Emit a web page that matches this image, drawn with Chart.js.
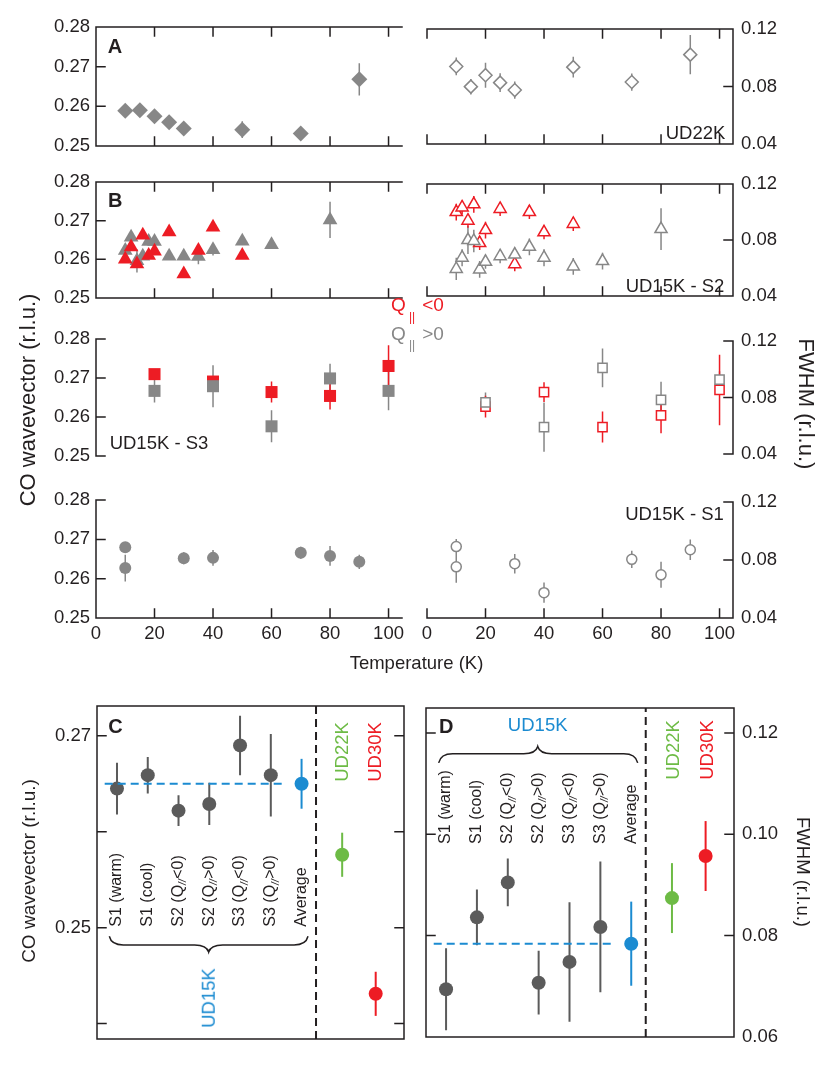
<!DOCTYPE html>
<html>
<head>
<meta charset="utf-8">
<script src="https://cdn.jsdelivr.net/npm/chart.js@4.4.0/dist/chart.umd.min.js"></script>
<style>
  body { margin: 0; background: #fff; }
  #fig { position: relative; width: 830px; height: 1072px; overflow: hidden; font-family: "Liberation Sans", Arial, sans-serif; color: #231f20; }
  #fig canvas { position: absolute; }
  .t { position: absolute; white-space: nowrap; line-height: 1; transform-origin: center; }
</style>
</head>
<body>
<div id="fig"></div>
<script>
const INK = '#231f20', GRAY = '#878787', RED = '#ed1c24', DARK = '#5b5b5b', BLUE = '#1b8bd1', GREEN = '#6dbb45';

// axis ticks
const tempTicks = [0, 20, 40, 60, 80, 100];
const coTicks = [0.25, 0.26, 0.27, 0.28];
const fwTicks = [0.04, 0.08, 0.12];
const coTicksC = [0.24, 0.25, 0.26, 0.27];
const coLabelsC = [0.25, 0.27];
const fwTicksD = [0.06, 0.08, 0.10, 0.12];

// A: UD22K
const tA = [10, 15, 20, 25, 30, 50, 70, 90];
const coA = [0.2589, 0.2590, 0.2575, 0.2560, 0.2544, 0.2541, 0.2531, 0.2668];
const coAErr = [0.0004, 0.0004, 0.0008, 0.0007, 0.0004, 0.0021, 0.0004, 0.0041];
const fwA = [0.0940, 0.0799, 0.0879, 0.0827, 0.0775, 0.0935, 0.0831, 0.1022];
const fwAErr = [0.0062, 0.0054, 0.0087, 0.0065, 0.0060, 0.0072, 0.0060, 0.0137];

// B: UD15K - S2
const tS2neg = [10, 12, 14, 16, 18, 20, 25, 30, 35, 40, 50];
const coS2neg = [0.2600, 0.2632, 0.2588, 0.2662, 0.2610, 0.2621, 0.2671, 0.2562, 0.2623, 0.2683, 0.2610];
const coS2negErr = [0.0008, 0.0008, 0.0008, 0.0008, 0.0008, 0.0008, 0.0008, 0.0008, 0.0008, 0.0008, 0.0008];
const fwS2neg = [0.1000, 0.1033, 0.0938, 0.1055, 0.0778, 0.0871, 0.1022, 0.0627, 0.1000, 0.0855, 0.0915];
const fwS2negErr = [0.0060, 0.0050, 0.0050, 0.0060, 0.0050, 0.0060, 0.0050, 0.0050, 0.0050, 0.0050, 0.0050];
const tS2pos = [10, 12, 14, 16, 18, 20, 25, 30, 35, 40, 50, 60, 80];
const coS2pos = [0.2623, 0.2657, 0.2596, 0.2608, 0.2646, 0.2646, 0.2608, 0.2608, 0.2607, 0.2625, 0.2647, 0.2638, 0.2702];
const coS2posErr = [0.0012, 0.0008, 0.0030, 0.0010, 0.0008, 0.0008, 0.0010, 0.0010, 0.0020, 0.0015, 0.0008, 0.0010, 0.0047];
const fwS2pos = [0.0593, 0.0673, 0.0800, 0.0793, 0.0589, 0.0644, 0.0684, 0.0696, 0.0751, 0.0673, 0.0611, 0.0649, 0.0878];
const fwS2posErr = [0.0080, 0.0060, 0.0100, 0.0080, 0.0060, 0.0050, 0.0050, 0.0050, 0.0060, 0.0060, 0.0060, 0.0060, 0.0150];

// UD15K - S3
const tS3 = [20, 40, 60, 80, 100];
const coS3neg = [0.2710, 0.2691, 0.2664, 0.2654, 0.2731];
const coS3negErr = [0.0010, 0.0012, 0.0027, 0.0035, 0.0053];
const coS3pos = [0.2667, 0.2679, 0.2576, 0.2699, 0.2667];
const coS3posErr = [0.0030, 0.0054, 0.0041, 0.0038, 0.0050];
const fwS3neg = [0.0735, 0.0838, 0.0590, 0.0673, 0.0854];
const fwS3negErr = [0.0077, 0.0070, 0.0110, 0.0126, 0.0250];
const fwS3pos = [0.0766, 0.0590, 0.1010, 0.0783, 0.0927];
const fwS3posErr = [0.0070, 0.0174, 0.0137, 0.0128, 0.0060];

// UD15K - S1
const tS1 = [10, 10, 30, 40, 70, 80, 90];
const coS1 = [0.2680, 0.2627, 0.2652, 0.2653, 0.2666, 0.2658, 0.2643];
const coS1Err = [0.0008, 0.0034, 0.0015, 0.0020, 0.0015, 0.0025, 0.0018];
const fwS1 = [0.0893, 0.0753, 0.0775, 0.0575, 0.0805, 0.0698, 0.0871];
const fwS1Err = [0.0053, 0.0110, 0.0067, 0.0070, 0.0060, 0.0090, 0.0070];

// C / D summary
const categories = ['S1 (warm)', 'S1 (cool)', 'S2 (Q//<0)', 'S2 (Q//>0)', 'S3 (Q//<0)', 'S3 (Q//>0)', 'Average'];
const coC = [0.2645, 0.2659, 0.2622, 0.2629, 0.2690, 0.2659];
const coCErr = [0.0027, 0.0019, 0.0016, 0.0022, 0.0031, 0.0043];
const coAvg = 0.2650, coAvgErr = 0.0026;
const coUD22 = 0.2576, coUD22Err = 0.0023;
const coUD30 = 0.2431, coUD30Err = 0.0023;
const fwD = [0.0694, 0.0836, 0.0905, 0.0707, 0.0748, 0.0817];
const fwDErr = [0.0081, 0.0055, 0.0047, 0.0063, 0.0118, 0.0129];
const fwAvg = 0.0784, fwAvgErr = 0.0083;
const fwUD22 = 0.0874, fwUD22Err = 0.0069;
const fwUD30 = 0.0957, fwUD30Err = 0.0069;

// x layout of the summary panels
const catPos = [0, 1, 2, 3, 4, 5, 6];
const posUD22 = 7.32, posUD30 = 8.41, posDivider = 6.47;

const fig = document.getElementById('fig');

// error bars, drawn under the markers
const errPlugin = {
  id: 'errbars',
  beforeDatasetsDraw(chart) {
    const { ctx, scales: { x, y } } = chart;
    chart.data.datasets.forEach(ds => {
      if (!ds.err) return;
      ctx.save();
      ctx.strokeStyle = ds.borderColor;
      ctx.lineWidth = ds.errWidth || 1.5;
      ctx.beginPath();
      ds.data.forEach((p, j) => {
        const px = x.getPixelForValue(p.x);
        ctx.moveTo(px, y.getPixelForValue(p.y - ds.err[j]));
        ctx.lineTo(px, y.getPixelForValue(p.y + ds.err[j]));
      });
      ctx.stroke();
      ctx.restore();
    });
  }
};

// frame lines with inward tick marks
const framePlugin = {
  id: 'frame',
  afterDraw(chart, args, o) {
    if (!o.sides) return;
    const { ctx, chartArea: a, scales: { x, y } } = chart;
    const s = o.sides, len = 9;
    ctx.save();
    ctx.strokeStyle = INK;
    ctx.lineWidth = 1.5;
    ctx.lineCap = 'square';
    ctx.beginPath();
    if (s.includes('t')) { ctx.moveTo(a.left, a.top); ctx.lineTo(a.right, a.top); }
    if (s.includes('b')) { ctx.moveTo(a.left, a.bottom); ctx.lineTo(a.right, a.bottom); }
    if (s.includes('l')) { ctx.moveTo(a.left, a.top); ctx.lineTo(a.left, a.bottom); }
    if (s.includes('r')) { ctx.moveTo(a.right, a.top); ctx.lineTo(a.right, a.bottom); }
    (o.xTicks || []).forEach(v => {
      const p = x.getPixelForValue(v);
      if (s.includes('t')) { ctx.moveTo(p, a.top); ctx.lineTo(p, a.top + len); }
      if (s.includes('b')) { ctx.moveTo(p, a.bottom); ctx.lineTo(p, a.bottom - len); }
    });
    (o.yTicks || []).forEach(v => {
      const p = y.getPixelForValue(v);
      if (s.includes('l')) { ctx.moveTo(a.left, p); ctx.lineTo(a.left + len, p); }
      if (s.includes('r')) { ctx.moveTo(a.right, p); ctx.lineTo(a.right - len, p); }
    });
    ctx.stroke();
    ctx.restore();
  }
};

// rotated category labels and the brace in C / D
const notePlugin = {
  id: 'note',
  afterDraw(chart, args, o) {
    if (!o.labels) return;
    const { ctx, scales: { x, y } } = chart;
    ctx.save();
    ctx.fillStyle = INK;
    ctx.textBaseline = 'middle';
    ctx.textAlign = 'left';
    o.labels.forEach((lab, i) => {
      ctx.save();
      ctx.translate(x.getPixelForValue(o.pos[i]), y.getPixelForValue(o.anchor));
      ctx.rotate(-Math.PI / 2);
      const parts = lab.split('//');
      let cx = 0;
      ctx.font = '16px "Liberation Sans", Arial, sans-serif';
      ctx.fillText(parts[0], cx, 0);
      cx += ctx.measureText(parts[0]).width;
      if (parts.length > 1) {
        ctx.font = 'italic 10px "Liberation Sans", Arial, sans-serif';
        ctx.fillText('//', cx, 5);
        cx += ctx.measureText('//').width + 0.5;
        ctx.font = '16px "Liberation Sans", Arial, sans-serif';
        ctx.fillText(parts[1], cx, 0);
      }
      ctx.restore();
    });
    const b = o.brace;
    const X = v => x.getPixelForValue(v), Y = v => y.getPixelForValue(v);
    const x0 = X(b.x0), x1 = X(b.x1), xc = X(b.xc), ye = Y(b.yEnd), yb = Y(b.yBody), yt = Y(b.yTip);
    const r = 14;
    ctx.strokeStyle = INK;
    ctx.lineWidth = 1.5;
    ctx.beginPath();
    ctx.moveTo(x0, ye);
    ctx.quadraticCurveTo(x0 + 2, yb, x0 + r, yb);
    ctx.lineTo(xc - r, yb);
    ctx.quadraticCurveTo(xc - 2, yb, xc, yt);
    ctx.quadraticCurveTo(xc + 2, yb, xc + r, yb);
    ctx.lineTo(x1 - r, yb);
    ctx.quadraticCurveTo(x1 - 2, yb, x1, ye);
    ctx.stroke();
    ctx.restore();
  }
};

Chart.register(errPlugin, framePlugin, notePlugin);

function yAxis(min, max, labels, position) {
  return {
    type: 'linear', position, min, max,
    display: labels.length > 0,
    grid: { display: false, drawTicks: false },
    border: { display: false },
    afterBuildTicks: s => { s.ticks = labels.map(v => ({ value: v })); },
    afterFit: labels.length ? s => { s.width = 60; } : undefined,
    ticks: { font: { size: 18.5 }, color: INK, padding: position === 'left' ? 6 : 8, callback: v => v.toFixed(2) }
  };
}

function xAxis(min, max, labels) {
  return {
    type: 'linear', position: 'bottom', min, max,
    display: labels.length > 0,
    grid: { display: false, drawTicks: false },
    border: { display: false },
    afterBuildTicks: s => { s.ticks = labels.map(v => ({ value: v })); },
    afterFit: labels.length ? s => { s.height = 30; } : undefined,
    ticks: { font: { size: 18.5 }, color: INK, padding: 5, maxRotation: 0, autoSkip: false, callback: v => v }
  };
}

const pts = (xs, ys) => xs.map((x, i) => ({ x, y: ys[i] }));
const filled = (shape, r, c) => ({ pointStyle: shape, pointRadius: r, backgroundColor: c, borderColor: c, borderWidth: 0 });
const open = (shape, r, c) => ({ pointStyle: shape, pointRadius: r, backgroundColor: '#fff', borderColor: c, borderWidth: 1.5 });
function series(xs, ys, err, style) {
  return Object.assign({ data: pts(xs, ys), err, showLine: false, clip: false }, style);
}
function dashLine(x0, x1, y0, y1, color) {
  return { type: 'line', data: [{ x: x0, y: y0 }, { x: x1, y: y1 }], showLine: true, borderColor: color,
    borderWidth: 2, borderDash: [8, 5], pointRadius: 0, clip: false };
}

// place a chart so its plotting area lands exactly on box
function panel(box, pad, scales, datasets, plugins) {
  const cv = document.createElement('canvas');
  const W = box.w + pad.l + pad.r, H = box.h + pad.t + pad.b;
  cv.width = W; cv.height = H;
  Object.assign(cv.style, { left: (box.l - pad.l) + 'px', top: (box.t - pad.t) + 'px', width: W + 'px', height: H + 'px' });
  fig.appendChild(cv);
  const chart = new Chart(cv, {
    type: 'scatter',
    data: { datasets },
    options: {
      responsive: false, animation: false, events: [], devicePixelRatio: 1,
      layout: { padding: { left: pad.l, right: pad.r, top: pad.t, bottom: pad.b } },
      scales,
      plugins: Object.assign({ legend: { display: false }, tooltip: { enabled: false } }, plugins)
    }
  });
  const ca = chart.chartArea;
  const p = chart.config.options.layout.padding;
  p.left += pad.l - ca.left;
  p.top += pad.t - ca.top;
  p.right += ca.right - (pad.l + box.w);
  p.bottom += ca.bottom - (pad.t + box.h);
  chart.update();
  return chart;
}

const TMAX = 104.6;
const colL = 96, colR = 427, colW = 306;
const rows = { A: [25, 123], B: [180, 120], S3: [337, 121], S1: [498, 120] };
const padL = { l: 96, r: 20, t: 15, b: 15 }, padR = { l: 17, r: 97, t: 15, b: 15 };

function topPanels(row, leftSets, rightSets, leftSides, rightSides, withX) {
  const [t, h] = rows[row];
  const xl = withX ? tempTicks : [];
  panel({ l: colL, t, w: colW, h }, Object.assign({}, padL, { b: withX ? 45 : 15 }),
    { x: xAxis(0, TMAX, xl), y: yAxis(0.25, 0.28, coTicks, 'left') }, leftSets,
    { frame: { sides: leftSides, xTicks: tempTicks, yTicks: coTicks } });
  panel({ l: colR, t, w: colW, h }, Object.assign({}, padR, { b: withX ? 45 : 15 }),
    { x: xAxis(0, TMAX, xl), y: yAxis(0.04, 0.12, fwTicks, 'right') }, rightSets,
    { frame: { sides: rightSides, xTicks: tempTicks, yTicks: fwTicks } });
}

topPanels('A',
  [series(tA, coA, coAErr, filled('rectRot', 8, GRAY))],
  [series(tA, fwA, fwAErr, open('rectRot', 6.5, GRAY))],
  'tbl', 'tbr', false);

topPanels('B',
  [series(tS2neg, coS2neg, coS2negErr, filled('triangle', 8.5, RED)),
   series(tS2pos, coS2pos, coS2posErr, filled('triangle', 8.5, GRAY))],
  [series(tS2pos, fwS2pos, fwS2posErr, open('triangle', 7, GRAY)),
   series(tS2neg, fwS2neg, fwS2negErr, open('triangle', 7, RED))],
  'tbl', 'tbr', false);

topPanels('S3',
  [series(tS3, coS3pos, coS3posErr, filled('rect', 8.5, GRAY)),
   series(tS3, coS3neg, coS3negErr, filled('rect', 8.5, RED))],
  [series(tS3, fwS3pos, fwS3posErr, open('rect', 6.5, GRAY)),
   series(tS3, fwS3neg, fwS3negErr, open('rect', 6.5, RED))],
  'l', 'r', false);

topPanels('S1',
  [series(tS1, coS1, coS1Err, filled('circle', 6, GRAY))],
  [series(tS1, fwS1, fwS1Err, open('circle', 5, GRAY))],
  'lb', 'br', true);

// C: CO wavevector summary
const catX = catPos.slice(0, 6);
const XMIN = -0.65, XMAX = 9.33;
panel({ l: 97, t: 704, w: 307, h: 337 }, { l: 97, r: 10, t: 15, b: 15 },
  { x: xAxis(XMIN, XMAX, []), y: yAxis(0.2384, 0.2731, coLabelsC, 'left') },
  [dashLine(posDivider, posDivider, 0.2384, 0.2731, INK),
   dashLine(-0.4, 5.4, coAvg, coAvg, BLUE),
   series(catX, coC, coCErr, Object.assign(filled('circle', 7, DARK), { errWidth: 2 })),
   series([catPos[6]], [coAvg], [coAvgErr], Object.assign(filled('circle', 7, BLUE), { errWidth: 2 })),
   series([posUD22], [coUD22], [coUD22Err], Object.assign(filled('circle', 7, GREEN), { errWidth: 2 })),
   series([posUD30], [coUD30], [coUD30Err], Object.assign(filled('circle', 7, RED), { errWidth: 2 }))],
  { frame: { sides: 'tblr', yTicks: coTicksC },
    note: { labels: categories, pos: catPos, anchor: 0.2501,
      brace: { x0: -0.25, x1: 6.21, xc: 2.98, yEnd: 0.2491, yBody: 0.2482, yTip: 0.24746 } } });

// D: FWHM summary
panel({ l: 426, t: 704, w: 308, h: 337 }, { l: 10, r: 96, t: 15, b: 15 },
  { x: xAxis(XMIN, XMAX, []), y: yAxis(0.06, 0.1249, fwTicksD, 'right') },
  [dashLine(posDivider, posDivider, 0.06, 0.1249, INK),
   dashLine(-0.4, 5.4, fwAvg, fwAvg, BLUE),
   series(catX, fwD, fwDErr, Object.assign(filled('circle', 7, DARK), { errWidth: 2 })),
   series([catPos[6]], [fwAvg], [fwAvgErr], Object.assign(filled('circle', 7, BLUE), { errWidth: 2 })),
   series([posUD22], [fwUD22], [fwUD22Err], Object.assign(filled('circle', 7, GREEN), { errWidth: 2 })),
   series([posUD30], [fwUD30], [fwUD30Err], Object.assign(filled('circle', 7, RED), { errWidth: 2 }))],
  { frame: { sides: 'tblr', yTicks: fwTicksD },
    note: { labels: categories, pos: catPos, anchor: 0.0981,
      brace: { x0: -0.24, x1: 6.21, xc: 2.97, yEnd: 0.1141, yBody: 0.11589, yTip: 0.11731 } } });

// free text
function text(str, cx, cy, o = {}) {
  const d = document.createElement('div');
  d.className = 't';
  d.innerHTML = str;
  d.style.left = cx + 'px';
  d.style.top = cy + 'px';
  d.style.fontSize = (o.size || 18.5) + 'px';
  if (o.color) d.style.color = o.color;
  if (o.bold) d.style.fontWeight = 'bold';
  d.style.transform = 'translate(-50%,-50%) rotate(' + (o.rot || 0) + 'deg)';
  fig.appendChild(d);
}

text('A', 115, 46, { bold: true, size: 20 });
text('B', 115.3, 200, { bold: true, size: 20 });
text('UD22K', 695.5, 132.5);
text('UD15K - S2', 675, 286);
text('UD15K - S3', 159, 442.5);
text('UD15K - S1', 674.5, 513.5);
text('Temperature (K)', 416.5, 663);
text('CO wavevector (r.l.u.)', 28, 400, { rot: -90, size: 22 });
text('FWHM (r.l.u.)', 806, 404, { rot: 90, size: 22 });

text('Q', 398.5, 303.5, { color: RED, size: 19 });
text('||', 412, 317, { color: RED, size: 12 });
text('&lt;0', 433, 303.5, { color: RED, size: 19 });
text('Q', 398.5, 332.5, { color: GRAY, size: 19 });
text('||', 412, 345, { color: GRAY, size: 12 });
text('&gt;0', 433, 332.5, { color: GRAY, size: 19 });

text('C', 115.5, 726, { bold: true, size: 20 });
text('D', 446.3, 725.5, { bold: true, size: 20 });
text('CO wavevector (r.l.u.)', 28, 871, { rot: -90, size: 19 });
text('FWHM (r.l.u.)', 803, 872, { rot: 90, size: 18.5 });
text('UD15K', 209, 998, { rot: -90, color: BLUE });
text('UD22K', 341.7, 752, { rot: -90, color: GREEN });
text('UD30K', 375, 752, { rot: -90, color: RED });
text('UD15K', 537.7, 725, { color: BLUE });
text('UD22K', 672.7, 749.5, { rot: -90, color: GREEN });
text('UD30K', 706.7, 749.5, { rot: -90, color: RED });
</script>
</body>
</html>
